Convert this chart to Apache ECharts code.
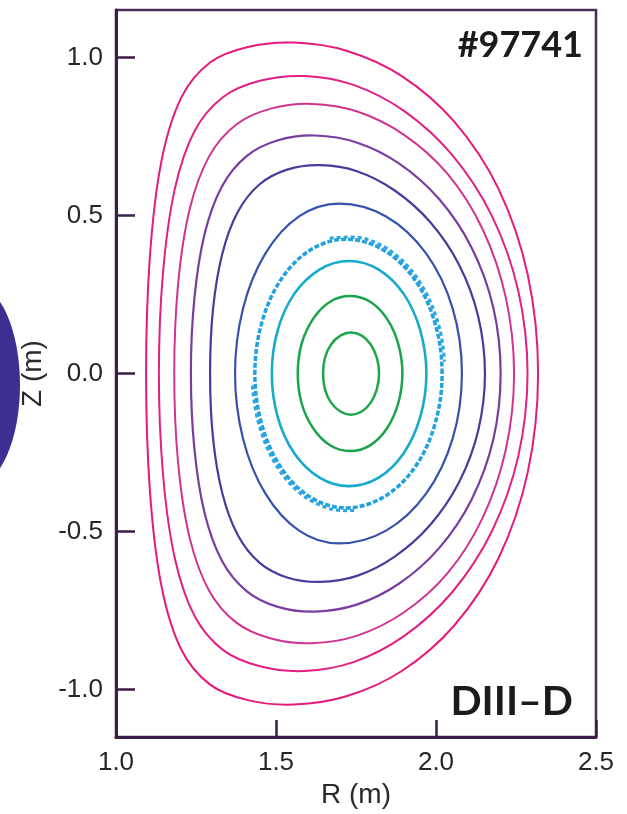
<!DOCTYPE html>
<html>
<head>
<meta charset="utf-8">
<script src="https://cdn.jsdelivr.net/npm/echarts/dist/echarts.min.js"></script>
<style>
html,body{margin:0;padding:0;background:#ffffff;}
#chart{width:627px;height:814px;}
</style>
</head>
<body>
<div id="chart"></div>
<script>
// Flux surfaces (R, Z) in metres, outer to inner
const surf1 = [[2.319,0],[2.287,0.311],[2.195,0.585],[2.057,0.797],[1.893,0.941],[1.720,1.021],[1.556,1.047],[1.412,1.033],[1.294,0.984],[1.204,0.873],[1.142,0.672],[1.106,0.371],[1.094,0],[1.106,-0.371],[1.142,-0.672],[1.204,-0.873],[1.294,-0.984],[1.412,-1.033],[1.556,-1.047],[1.720,-1.021],[1.893,-0.941],[2.057,-0.797],[2.195,-0.585],[2.287,-0.311]];
const surf2 = [[2.286,0],[2.257,0.262],[2.175,0.498],[2.051,0.691],[1.901,0.830],[1.742,0.913],[1.588,0.941],[1.450,0.926],[1.335,0.875],[1.246,0.768],[1.184,0.585],[1.147,0.320],[1.134,0],[1.147,-0.320],[1.184,-0.585],[1.246,-0.768],[1.335,-0.875],[1.450,-0.926],[1.588,-0.941],[1.742,-0.913],[1.901,-0.830],[2.051,-0.691],[2.175,-0.498],[2.257,-0.262]];
const surf3 = [[2.244,0],[2.218,0.241],[2.145,0.458],[2.035,0.633],[1.899,0.756],[1.754,0.829],[1.612,0.853],[1.484,0.838],[1.376,0.788],[1.291,0.687],[1.230,0.519],[1.194,0.282],[1.182,0],[1.194,-0.282],[1.230,-0.519],[1.291,-0.687],[1.376,-0.788],[1.484,-0.838],[1.612,-0.853],[1.754,-0.829],[1.899,-0.756],[2.035,-0.633],[2.145,-0.458],[2.218,-0.241]];
const surf4 = [[2.202,0],[2.179,0.209],[2.111,0.399],[2.009,0.553],[1.884,0.665],[1.752,0.731],[1.622,0.753],[1.506,0.738],[1.408,0.688],[1.331,0.592],[1.277,0.442],[1.245,0.238],[1.234,0],[1.245,-0.238],[1.277,-0.442],[1.331,-0.592],[1.408,-0.688],[1.506,-0.738],[1.622,-0.753],[1.752,-0.731],[1.884,-0.665],[2.009,-0.553],[2.111,-0.399],[2.179,-0.209]];
const surf5 = [[2.153,0],[2.132,0.180],[2.072,0.344],[1.981,0.480],[1.871,0.579],[1.753,0.640],[1.638,0.659],[1.535,0.645],[1.448,0.598],[1.380,0.510],[1.332,0.378],[1.303,0.202],[1.294,0],[1.303,-0.202],[1.332,-0.378],[1.380,-0.510],[1.448,-0.598],[1.535,-0.645],[1.638,-0.659],[1.753,-0.640],[1.871,-0.579],[1.981,-0.480],[2.072,-0.344],[2.132,-0.180]];
const surf6 = [[2.081,0],[2.052,0.206],[1.969,0.38],[1.844,0.497],[1.697,0.5375],[1.572,0.497],[1.467,0.38],[1.397,0.206],[1.372,0],[1.397,-0.206],[1.467,-0.38],[1.572,-0.497],[1.697,-0.5375],[1.844,-0.497],[1.969,-0.38],[2.052,-0.206]];
const surf7 = [[2.019,0],[1.996,0.1625],[1.931,0.301],[1.833,0.3925],[1.719,0.425],[1.61,0.3925],[1.518,0.301],[1.456,0.1625],[1.434,0],[1.456,-0.1625],[1.518,-0.301],[1.61,-0.3925],[1.719,-0.425],[1.833,-0.3925],[1.931,-0.301],[1.996,-0.1625]];
const band7UpperRight = [[1.668,0.428],[1.773,0.428],[1.874,0.376],[1.956,0.279],[2.010,0.149],[2.027,0.038]];
const band7LowerLeft = [[1.426,-0.038],[1.443,-0.149],[1.494,-0.279],[1.572,-0.376],[1.668,-0.428],[1.746,-0.433]];
const surf8 = [[1.970,0],[1.951,0.136],[1.899,0.252],[1.821,0.329],[1.728,0.356],[1.636,0.329],[1.557,0.252],[1.505,0.136],[1.487,0],[1.505,-0.136],[1.557,-0.252],[1.636,-0.329],[1.728,-0.356],[1.821,-0.329],[1.899,-0.252],[1.951,-0.136]];
const surf9 = [[1.895,0],[1.882,0.094],[1.847,0.173],[1.794,0.227],[1.731,0.245],[1.669,0.227],[1.616,0.173],[1.580,0.094],[1.568,0],[1.580,-0.094],[1.616,-0.173],[1.669,-0.227],[1.731,-0.245],[1.794,-0.227],[1.847,-0.173],[1.882,-0.094]];
const surf10 = [[1.822,0],[1.815,0.05],[1.796,0.092],[1.768,0.12],[1.734,0.13],[1.701,0.12],[1.672,0.092],[1.653,0.05],[1.647,0],[1.653,-0.05],[1.672,-0.092],[1.701,-0.12],[1.734,-0.13],[1.768,-0.12],[1.796,-0.092],[1.815,-0.05]];
const magneticAxis = [[1.733,0]];

const xTicks = [1.0, 1.5, 2.0, 2.5];
const yTicks = [-1.0, -0.5, 0.0, 0.5, 1.0];
const xTitle = 'R (m)';
const yTitle = 'Z (m)';
const shotLabel = '#97741';
const machineLabel = 'DIII\u2013D';

const surfaces = [
  {data: surf1, color: '#e6197c', width: 2, closed: true},
  {data: surf2, color: '#e21f82', width: 2, closed: true},
  {data: surf3, color: '#cf3492', width: 2, closed: true},
  {data: surf4, color: '#783d9f', width: 2.2, closed: true},
  {data: surf5, color: '#4b399b', width: 2.2, closed: true},
  {data: surf6, color: '#3552ad', width: 2.2, closed: true},
  {data: surf7, color: '#22a1df', width: 3.5, dash: [5, 2], closed: true},
  {data: band7UpperRight, color: '#2aa6e2', width: 3, dash: [4, 3], closed: false},
  {data: band7LowerLeft, color: '#2aa6e2', width: 3, dash: [4, 3], closed: false},
  {data: surf8, color: '#18aacb', width: 2.6, closed: true},
  {data: surf9, color: '#19a34b', width: 2.5, closed: true},
  {data: surf10, color: '#1fa64b', width: 2.5, closed: true}
];

const series = surfaces.map(function(s){
  return {
    type: 'custom',
    coordinateSystem: 'cartesian2d',
    data: s.data,
    encode: {x: 0, y: 1},
    silent: true,
    z: 3,
    renderItem: function(params, api){
      if (params.dataIndex !== 0) return null;
      const pts = s.data.map(function(p){ return api.coord(p); });
      return {
        type: s.closed ? 'polygon' : 'polyline',
        shape: {points: pts, smooth: 0.35},
        style: {fill: null, stroke: s.color, lineWidth: s.width, lineDash: s.dash ? s.dash : null},
        silent: true
      };
    }
  };
});
series.push({
  type: 'scatter',
  data: magneticAxis,
  symbol: 'emptyCircle',
  symbolSize: [5, 8],
  itemStyle: {color: '#ffffff', borderColor: '#62b144', borderWidth: 2},
  silent: true,
  z: 4
});

const axisColor = '#3b1e48';
const chart = echarts.init(document.getElementById('chart'), null, {renderer: 'canvas'});
chart.setOption({
  animation: false,
  backgroundColor: '#ffffff',
  grid: {left: 116, right: 31, top: 10, bottom: 67, show: true, borderColor: '#4a2c58', borderWidth: 2.5, backgroundColor: 'transparent'},
  xAxis: {
    type: 'value', min: 1.0, max: 2.5, interval: 0.5,
    axisLine: {show: true, onZero: false, lineStyle: {color: axisColor, width: 3}},
    axisTick: {show: true, inside: true, length: 17, customValues: xTicks, lineStyle: {color: axisColor, width: 2.5}},
    axisLabel: {margin: 13, fontSize: 26, fontFamily: 'Liberation Sans', color: '#262626', customValues: xTicks, formatter: function(v){ return v.toFixed(1); }},
    splitLine: {show: false},
    name: xTitle, nameLocation: 'middle', nameGap: 33,
    nameTextStyle: {fontSize: 28, fontFamily: 'Liberation Sans', color: '#2a2a2a'}
  },
  yAxis: {
    type: 'value', min: -1.15, max: 1.15,
    axisLine: {show: true, onZero: false, lineStyle: {color: axisColor, width: 3}},
    axisTick: {show: true, inside: true, length: 19, customValues: yTicks, lineStyle: {color: axisColor, width: 2.5}},
    axisLabel: {margin: 13, fontSize: 26, fontFamily: 'Liberation Sans', color: '#262626', customValues: yTicks, formatter: function(v){ return v.toFixed(1); }},
    splitLine: {show: false},
    name: yTitle, nameLocation: 'middle', nameGap: 60,
    nameTextStyle: {fontSize: 28, fontFamily: 'Liberation Sans', color: '#2a2a2a'}
  },
  graphic: [
    {type: 'circle', shape: {cx: 0, cy: 0, r: 1}, x: -25, y: 385, scaleX: 45, scaleY: 100, style: {fill: '#3c3192'}, z: 0, silent: true},
    {type: 'text', right: 44, top: 27, style: {text: shotLabel, font: 'bold 36px Lato', fill: '#1b1b1b'}, z: 10},
    {type: 'text', right: 54, top: 681, style: {text: machineLabel, font: 'bold 41px Lato', fill: '#1b1b1b'}, z: 10}
  ],
  series: series
});
</script>
</body>
</html>
